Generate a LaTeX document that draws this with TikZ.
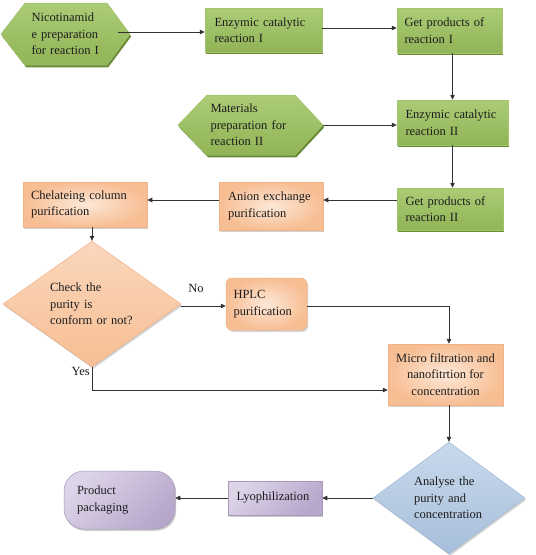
\documentclass[tikz,border=0pt]{standalone}
\usepackage{fontspec}
\setmainfont{Liberation Serif}
\usetikzlibrary{shapes.geometric,shadows,arrows.meta,calc}
\definecolor{gtop}{HTML}{ABCC76}
\definecolor{gbot}{HTML}{90B456}
\definecolor{gborder}{HTML}{A3C46C}
\definecolor{gshadow}{HTML}{6A8A36}
\definecolor{oin}{HTML}{FDE8D8}
\definecolor{oout}{HTML}{F7BE94}
\definecolor{oborder}{HTML}{F1B285}
\definecolor{btop}{HTML}{C9D9EC}
\definecolor{bbot}{HTML}{A7BFDB}
\definecolor{bborder}{HTML}{9FB7D6}
\definecolor{ptop}{HTML}{DDD4E8}
\definecolor{pbot}{HTML}{B7A7CB}
\definecolor{pborder}{HTML}{A697BC}
\definecolor{txtc}{HTML}{1E1E1E}
\begin{document}
\begin{tikzpicture}[x=1pt,y=-1pt,
  font=\fontsize{12.5}{16.5}\selectfont,
  every node/.style={text=txtc},
  greenfill/.style={draw=gborder, line width=0.5pt, top color=gtop, bottom color=gbot,
    drop shadow={shadow xshift=1.2pt, shadow yshift=-2.4pt, fill=gshadow, opacity=1}},
  greenbox/.style={rectangle, greenfill, inner sep=0pt, align=left},
  hextext/.style={rectangle, inner sep=0pt, align=left},
  orangebox/.style={rectangle, draw=oborder, line width=0.5pt, inner color=oin, outer color=oout,
    drop shadow={shadow xshift=1.2pt, shadow yshift=-1.8pt, fill=black, opacity=0.18}, inner sep=0pt, align=left},
  orangedia/.style={diamond, draw=oborder, line width=0.5pt, top color=oin!60!oout, bottom color=oout,
    drop shadow={shadow xshift=1.2pt, shadow yshift=-1.8pt, fill=black, opacity=0.18}, inner sep=0pt, align=left},
  bluedia/.style={diamond, draw=bborder, line width=0.5pt, top color=btop, bottom color=bbot,
    drop shadow={shadow xshift=1.2pt, shadow yshift=-1.8pt, fill=black, opacity=0.18}, inner sep=0pt, align=left},
  purplebox/.style={rectangle, draw=pborder, line width=0.5pt, left color=ptop, right color=pbot, shading angle=45,
    drop shadow={shadow xshift=1.2pt, shadow yshift=-1.8pt, fill=black, opacity=0.2}, inner sep=0pt, align=left},
  arr/.style={draw=black!80, line width=0.7pt, -{Triangle[length=5pt,width=4.5pt]}},
  lbl/.style={inner sep=0pt}
]
\useasboundingbox (0,0) rectangle (536,555);

% hexagons
\path[greenfill] (1,34) -- (25,3) -- (107,3) -- (130,34) -- (107,65) -- (25,65) -- cycle;
\node[hextext, minimum width=129pt, minimum height=62pt, text width=68pt] (n1) at (65.5,34)
  {Nicotinamid\\e preparation\\for reaction I};
\path[greenfill] (178,125) -- (207,95) -- (295,95) -- (323,125) -- (295,155) -- (207,155) -- cycle;
\node[hextext, minimum width=145pt, minimum height=60pt, text width=80pt] (m2) at (250.5,125)
  {Materials\\preparation for\\reaction II};

% green boxes
\node[greenbox, minimum width=117pt, minimum height=44pt, text width=98pt] (e1) at (263.5,30)
  {Enzymic catalytic\\reaction I};
\node[greenbox, minimum width=105pt, minimum height=45pt, text width=90pt] (g1) at (449.5,30.5)
  {Get products of\\reaction I};
\node[greenbox, minimum width=111pt, minimum height=45pt, text width=94pt] (e2) at (452.5,122.5)
  {Enzymic catalytic\\reaction II};
\node[greenbox, minimum width=106pt, minimum height=42pt, text width=89pt] (g2) at (450,209)
  {Get products of\\reaction II};

% orange
\node[orangebox, minimum width=104pt, minimum height=48pt, text width=86pt] (an) at (271,206)
  {Anion exchange\\purification};
\node[orangebox, minimum width=124pt, minimum height=45pt, text width=108pt] (ch) at (85,204.5)
  {Chelateing column\\purification};
\node[orangedia, minimum width=178pt, minimum height=107pt, text width=84pt] (d1) at (92,304)
  {Check the\\purity is\\conform or not?};
\node[orangebox, rounded corners=6pt, minimum width=81pt, minimum height=52pt, text width=66pt] (hp) at (266.5,304)
  {HPLC\\purification};
\node[orangebox, minimum width=115pt, minimum height=61pt, align=center] (mi) at (445.5,374.5)
  {Micro filtration and\\nanofitrtion for\\concentration};

% blue and purple
\node[bluedia, minimum width=152pt, minimum height=110pt, text width=70pt] (d2) at (449,498)
  {Analyse the\\purity and\\concentration};
\node[purplebox, minimum width=94pt, minimum height=34pt, text width=77pt] (ly) at (275,498)
  {Lyophilization};
\node[purplebox, rounded corners=20pt, minimum width=111pt, minimum height=58pt, text width=85pt] (pp) at (119.5,500)
  {Product\\packaging};

% connectors
\coordinate (a1) at ($(n1.east)+(-12,-2)$);
\draw[arr] (a1) -- (a1 -| e1.west);
\coordinate (a3) at ($(e1.east)+(0,-2)$);
\draw[arr] (a3) -- (a3 -| g1.west);
\draw[arr] (g1.south -| e2.north) -- (e2.north);
\draw[arr] (m2.east) -- (m2.east -| e2.west);
\draw[arr] (e2.south) -- (e2.south |- g2.north);
\coordinate (a2) at ($(g2.west)+(0,-9)$);
\draw[arr] (a2) -- (a2 -| an.east);
\draw[arr] (a2 -| an.west) -- (a2 -| ch.east);
\draw[arr] (ch.south -| d1.north) -- (d1.north);
\coordinate (a4) at ($(d1.east)+(0,2)$);
\draw[arr] (a4) -- (a4 -| hp.west);
\draw[arr] ($(hp.east)+(0,2)$) -| ($(mi.north)+(3.5,0)$);
\draw[arr] (d1.south) |- ($(mi.west)+(0,15.5)$);
\draw[arr] ($(mi.south)+(3.5,0)$) -- (d2.north);
\draw[arr] (d2.west) -- (d2.west -| ly.east);
\draw[arr] (ly.west) -- (ly.west -| pp.east);

% labels
\node[lbl] (no) at (196,288) {No};
\node[lbl, anchor=east] (yes) at (90,371) {Yes};
\end{tikzpicture}
\end{document}
